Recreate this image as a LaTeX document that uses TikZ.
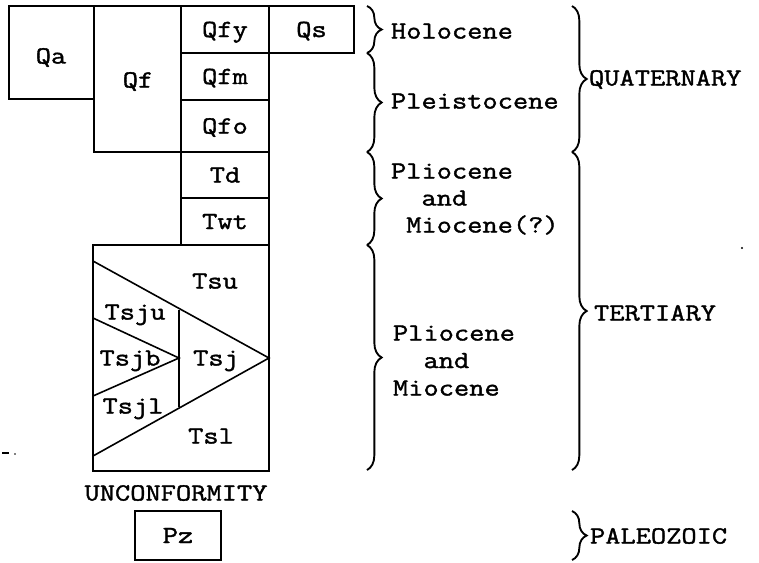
\documentclass[tikz,border=0pt]{standalone}
\usepackage{fontspec}
\newfontfamily\tw[FakeStretch=1.2,FakeBold=1.5]{Latin Modern Mono}
\usetikzlibrary{fit,decorations.pathreplacing}
\begin{document}
\begin{tikzpicture}[x=0.75pt,y=-0.75pt,
  every node/.style={font=\fontsize{18.5}{22}\tw, inner sep=0pt, outer sep=0pt},
  unit/.style={draw, line width=1.5pt, fit={#1}},
  lbl/.style={text height=11.3pt, text depth=0pt},
  wlbl/.style={lbl, anchor=west},
  contact/.style={line width=1.2pt},
  brc/.style={decorate, decoration={brace, amplitude=11pt}, line width=1.4pt}]
\useasboundingbox (0,0) rectangle (759,562);

% map units
\node[unit={(9,6)(94,99)}] (qa) {};
\node[lbl] (qalbl) at (51,56) {Qa};
\node[unit={(94,6)(181,152)}] (qf) {};
\node[lbl] (qflbl) at (138,80) {Qf};
\node[unit={(181,6)(269,53)}] (qfy) {};
\node[lbl] at (qfy) {Qfy};
\node[unit={(269,6)(354,53)}] (qs) {};
\node[lbl] at (qs) {Qs};
\node[unit={(181,53)(269,100)}] (qfm) {};
\node[lbl] at (qfm) {Qfm};
\node[unit={(181,100)(269,152)}] (qfo) {};
\node[lbl] at (qfo) {Qfo};
\node[unit={(181,152)(269,198)}] (td) {};
\node[lbl] at (td) {Td};
\node[unit={(181,198)(269,245)}] (twt) {};
\node[lbl] at (twt) {Twt};
\node[unit={(93,245)(269,471)}] (ts) {};

% Tsj wedge
\coordinate (ua) at (93,261);
\coordinate (la) at (93,456);
\coordinate (tip) at (269,358);
\coordinate (vu) at (179,309.5);
\coordinate (vl) at (179,406.5);
\coordinate (iu) at (93,318);
\coordinate (il) at (93,396);
\coordinate (itip) at (179,358);
\draw[contact] (ua) -- (tip) -- (la);
\draw[contact] (vu) -- (vl);
\draw[contact] (iu) -- (itip) -- (il);

\node[lbl] (tsu) at (215,281) {Tsu};
\node[lbl] (tsju) at (135,312) {Tsju};
\node[lbl] (tsjb) at (130,358) {Tsjb};
\node[lbl] (tsj) at (216,358) {Tsj};
\node[lbl] (tsjl) at (133,406) {Tsjl};
\node[lbl] (tsl) at (211,436) {Tsl};

\node[lbl] (unconf) at (176,493) {UNCONFORMITY};
\node[unit={(135,511)(221,560)}] (pz) {};
\node[lbl] at (pz) {Pz};

% epoch braces
\coordinate (e0) at (367,6);
\coordinate (e1) at (367,53);
\coordinate (e2) at (367,152);
\coordinate (e3) at (367,245);
\coordinate (e4) at (367,470);
\draw[brc] (e0) -- (e1);
\draw[brc] (e1) -- (e2);
\draw[brc] (e2) -- (e3);
\draw[brc] (e3) -- (e4);

\node[wlbl] (holo) at (391,31) {Holocene};
\node[wlbl] (pleis) at (391,101) {Pleistocene};
\node[wlbl] (pm1a) at (391,171) {Pliocene};
\node[wlbl] (pm1b) at (391,198) {\phantom{xx}and};
\node[wlbl] (pm1c) at (391,225) {\phantom{x}Miocene(?)};
\node[wlbl] (pm2a) at (393,333) {Pliocene};
\node[wlbl] (pm2b) at (393,360.5) {\phantom{xx}and};
\node[wlbl] (pm2c) at (393,388) {Miocene};

% period braces
\coordinate (p0) at (572,6);
\coordinate (p1) at (572,152);
\coordinate (p2) at (572,470);
\coordinate (p3) at (572,511);
\coordinate (p4) at (572,560);
\draw[brc] (p0) -- (p1);
\draw[brc] (p1) -- (p2);
\draw[brc] (p3) -- (p4);

\node[wlbl] (quat) at (589,78) {QUATERNARY};
\node[wlbl] (tert) at (594,313) {TERTIARY};
\node[wlbl] (paleo) at (590,536) {PALEOZOIC};

% specks in the scan
\fill (742,248) circle (1.1);
\draw[line width=1pt] (2,453) -- (9,453);
\fill (15,454) circle (0.9);
\end{tikzpicture}
\end{document}
